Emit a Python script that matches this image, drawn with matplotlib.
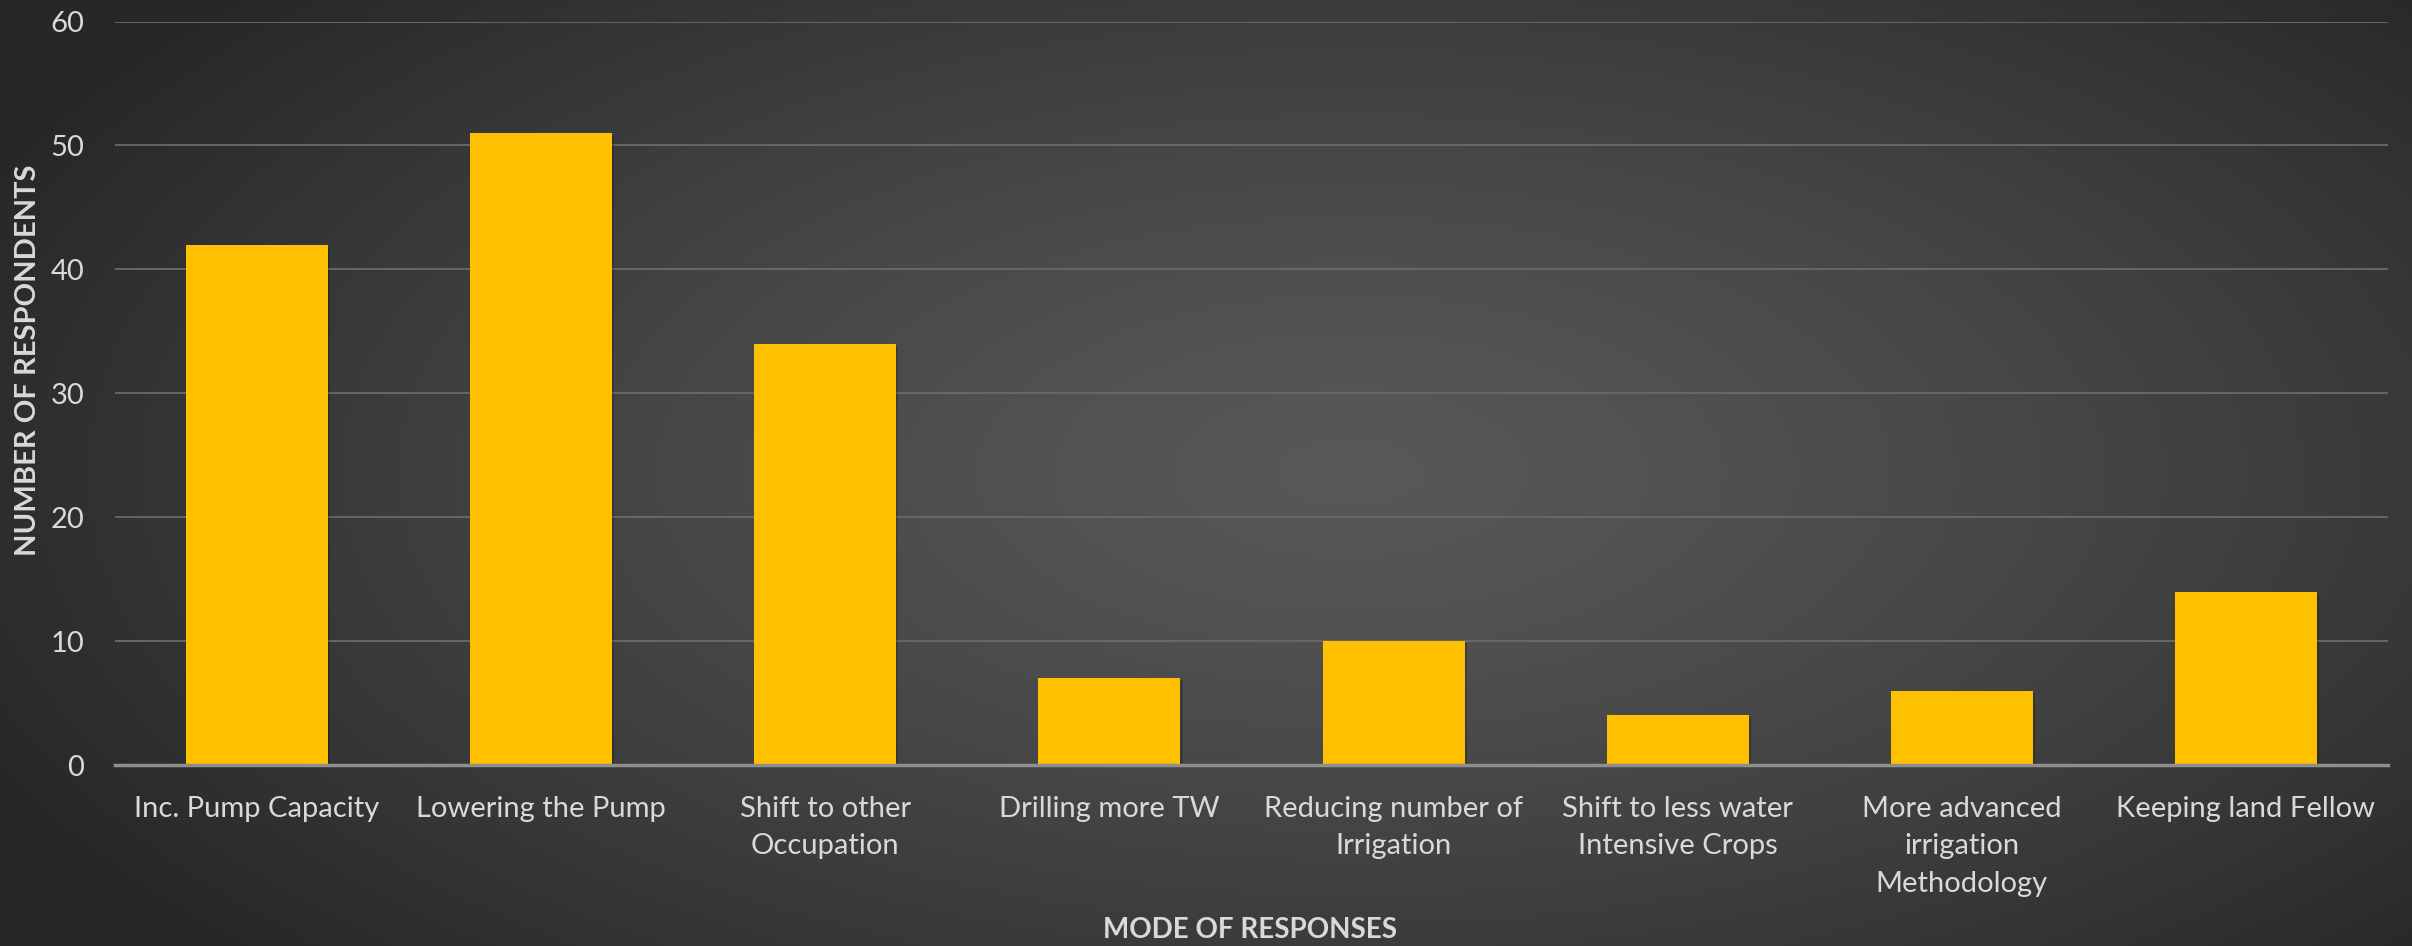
import numpy as np
import matplotlib
matplotlib.use("Agg")
import matplotlib.pyplot as plt
import matplotlib.patheffects as pe

# ------------------------------------------------------------
# Data
# ------------------------------------------------------------
categories = [
    "Inc. Pump Capacity",
    "Lowering the Pump",
    "Shift to other\nOccupation",
    "Drilling more TW",
    "Reducing number of\nIrrigation",
    "Shift to less water\nIntensive Crops",
    "More advanced\nirrigation\nMethodology",
    "Keeping land Fellow",
]
respondents = [42, 51, 34, 7, 10, 4, 6, 14]
y_ticks = [0, 10, 20, 30, 40, 50, 60]

BAR_COLOR = "#FFC000"
TEXT_COLOR = "#D9D9D9"

plt.rcParams["font.family"] = ["Lato", "DejaVu Sans"]

W, H = 2412, 946
fig = plt.figure(figsize=(W / 100, H / 100), dpi=100)

# radial grey background
bg = fig.add_axes([0, 0, 1, 1])
yy, xx = np.mgrid[0:1:400j, 0:1:1000j]
r = np.sqrt(((xx - 0.56) / 0.62) ** 2 + ((yy - 0.5) / 0.75) ** 2)
r = np.clip(r, 0, 1)
shade = 0.345 - (0.345 - 0.155) * r ** 1.3
bg.imshow(np.dstack([shade] * 3), aspect="auto", extent=[0, 1, 0, 1])
bg.axis("off")

ax = fig.add_axes([115 / W, 1 - 765 / H, (2388 - 115) / W, (765 - 21.5) / H])
ax.patch.set_alpha(0)

x = np.arange(len(categories))
bars = ax.bar(x, respondents, width=0.5, color=BAR_COLOR, zorder=3)
for b in bars:
    b.set_path_effects([
        pe.SimplePatchShadow(offset=(1.5, -1.5), shadow_rgbFace="black", alpha=0.2),
        pe.Normal(),
    ])

ax.set_xlim(-0.5, len(categories) - 0.5)
ax.set_ylim(0, 60)
ax.set_yticks(y_ticks)
ax.set_xticks(x)
ax.set_xticklabels(categories, linespacing=1.55)

ax.grid(axis="y", color="#6A6A6A", linewidth=1.3, zorder=0)
for s in ["top", "right", "left"]:
    ax.spines[s].set_visible(False)
ax.spines["bottom"].set_color("#8E8E8E")
ax.spines["bottom"].set_linewidth(2.5)
ax.spines["bottom"].set_zorder(4)

ax.tick_params(axis="both", length=0, colors=TEXT_COLOR, labelsize=21)
ax.tick_params(axis="x", pad=22)
ax.tick_params(axis="y", pad=22)

fig.text(28 / W, 1 - 360 / H, "NUMBER OF RESPONDENTS", rotation=90,
         ha="center", va="center", color=TEXT_COLOR, fontsize=21,
         fontweight="bold")
fig.text(1250 / W, 1 - 930 / H, "MODE OF RESPONSES",
         ha="center", va="center", color=TEXT_COLOR, fontsize=20,
         fontweight="bold")

fig.savefig("out.png", dpi=100)
